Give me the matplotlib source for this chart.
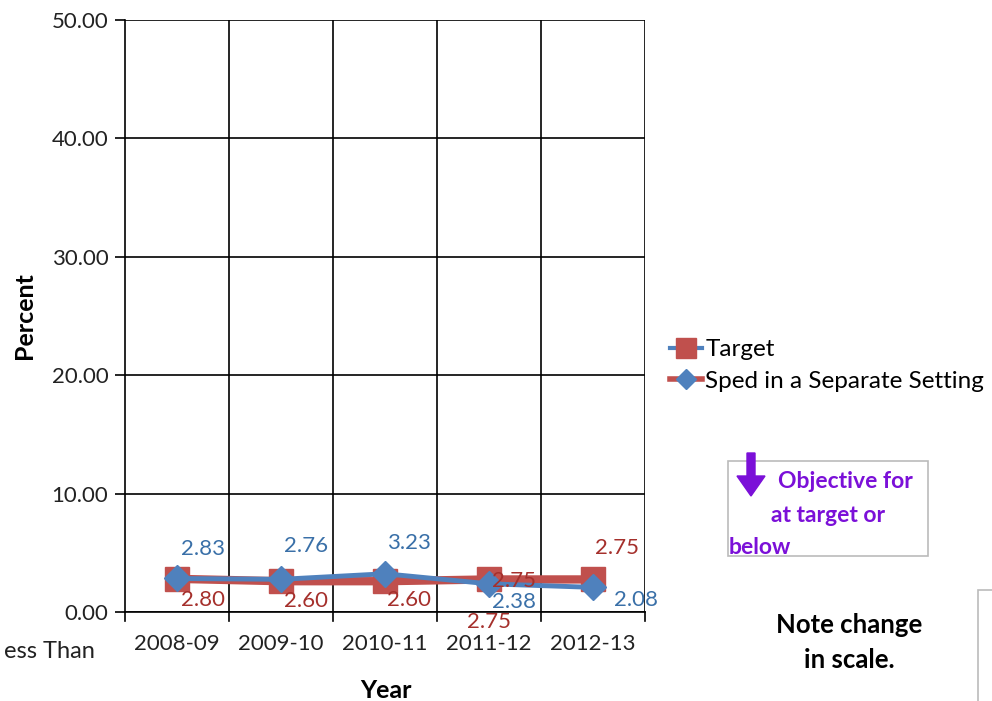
import matplotlib.pyplot as plt
from matplotlib.lines import Line2D
from matplotlib.patches import Rectangle, FancyArrow

plt.rcParams['font.family'] = ['Lato', 'DejaVu Sans']

# data
years = ['2008-09', '2009-10', '2010-11', '2011-12', '2012-13']
target = [2.80, 2.60, 2.60, 2.75, 2.75]
sped = [2.83, 2.76, 3.23, 2.38, 2.08]
yticks = [0, 10, 20, 30, 40, 50]

red = '#C0504D'
blue = '#4F81BD'
red_txt = '#A5302C'
blue_txt = '#3A70A8'
purple = '#7B10D8'

W, H = 992, 701
fig = plt.figure(figsize=(9.92, 7.01), dpi=100)
ax = fig.add_axes([125 / W, 1 - 612 / H, 520 / W, 592 / H])

x = list(range(len(years)))
ax.plot(x, target, color=red, lw=6, marker='s', ms=17, mec=red, zorder=3)
ax.plot(x, sped, color=blue, lw=3.5, marker='D', ms=13, mec=blue, zorder=4)

ax.set_xlim(-0.5, len(years) - 0.5)
ax.set_ylim(0, 50)
ax.set_yticks(yticks)
ax.set_yticklabels([f'{v:.2f}' for v in yticks], fontsize=16, color='#222222')
ax.set_xticks(x)
ax.set_xticklabels(years, fontsize=16, color='#222222')
ax.tick_params(axis='x', length=0, pad=16)
ax.tick_params(axis='y', length=7, width=1.2, direction='out', pad=5)

# vertical grid at category boundaries
for b in [i + 0.5 for i in range(len(years))]:
    ax.axvline(b, color='black', lw=1.2, zorder=1)
ax.yaxis.grid(True, color='black', lw=1.2)
ax.set_axisbelow(True)
for s in ['top', 'right']:
    ax.spines[s].set_visible(False)
ax.spines['left'].set_linewidth(1.2)
ax.spines['bottom'].set_linewidth(1.2)
# x tick marks at boundaries
for b in [i - 0.5 for i in range(len(years) + 1)]:
    ax.plot([b, b], [0, -0.75], color='black', lw=1.2, clip_on=False)

fig.text(25 / W, 1 - 316 / H, 'Percent', fontsize=18, fontweight='bold',
         rotation=90, ha='center', va='center')
fig.text(386 / W, 1 - 690 / H, 'Year', fontsize=18, fontweight='bold',
         ha='center', va='center')

# data labels
blue_off = [(26, 29), (25, 33), (24, 31), (25, -18), (43, -13)]
red_off = [(26, -21), (25, -20), (24, -19), (25, -2), (24, 31)]
for i in x:
    ax.annotate(f'{sped[i]:.2f}', (i, sped[i]), xytext=blue_off[i],
                textcoords='offset pixels', ha='center', va='center',
                color=blue_txt, fontsize=16, zorder=6, annotation_clip=False)
    ax.annotate(f'{target[i]:.2f}', (i, target[i]), xytext=red_off[i],
                textcoords='offset pixels', ha='center', va='center',
                color=red_txt, fontsize=16, zorder=6, annotation_clip=False)
ax.annotate(f'{target[3]:.2f}', (3, target[3]), xytext=(0, -43),
            textcoords='offset pixels', ha='center', va='center',
            color=red_txt, fontsize=16, zorder=6, annotation_clip=False)

# legend
h1 = Line2D([], [], color=blue, lw=3, marker='s', ms=14, mfc=red, mec=red)
h2 = Line2D([], [], color=red, lw=4, marker='D', ms=10, mfc=blue, mec=blue)
fig.legend([h1, h2], ['Target', 'Sped in a Separate Setting'],
           loc='upper left', bbox_to_anchor=(670 / W, 1 - 339 / H), frameon=False,
           fontsize=17.5, handlelength=1.3, handletextpad=0.15, labelspacing=0.45,
           borderaxespad=0, borderpad=0)

# objective box
fig.patches.append(Rectangle((728 / W, 1 - 556 / H), 200 / W, 95 / H,
                             transform=fig.transFigure, fill=False,
                             ec='#BBBBBB', lw=1.2))
fig.patches.append(FancyArrow(751 / W, 1 - 453 / H, 0, -43 / H,
                              width=8 / W, head_width=28 / W,
                              head_length=20 / H, length_includes_head=True,
                              transform=fig.transFigure, color=purple))
fig.text(845 / W, 1 - 482 / H, 'Objective for', color=purple,
         fontsize=16.5, fontweight='bold', ha='center', va='center')
fig.text(828 / W, 1 - 516 / H, 'at target or', color=purple,
         fontsize=16.5, fontweight='bold', ha='center', va='center')
fig.text(729 / W, 1 - 548 / H, 'below', color=purple,
         fontsize=16.5, fontweight='bold', ha='left', va='center')

fig.text(849 / W, 1 - 625 / H, 'Note change', fontsize=18.5,
         fontweight='bold', ha='center', va='center')
fig.text(849 / W, 1 - 660 / H, 'in scale.', fontsize=18.5,
         fontweight='bold', ha='center', va='center')
fig.patches.append(Rectangle((978 / W, -0.01), 0.05, 1 - 590 / H + 0.01,
                             transform=fig.transFigure, fill=False,
                             ec='#BBBBBB', lw=1.2))
fig.text(95 / W, 1 - 652 / H, 'ess Than', fontsize=17, ha='right',
         va='center', color='#222222')

fig.savefig('out.png', dpi=100)
